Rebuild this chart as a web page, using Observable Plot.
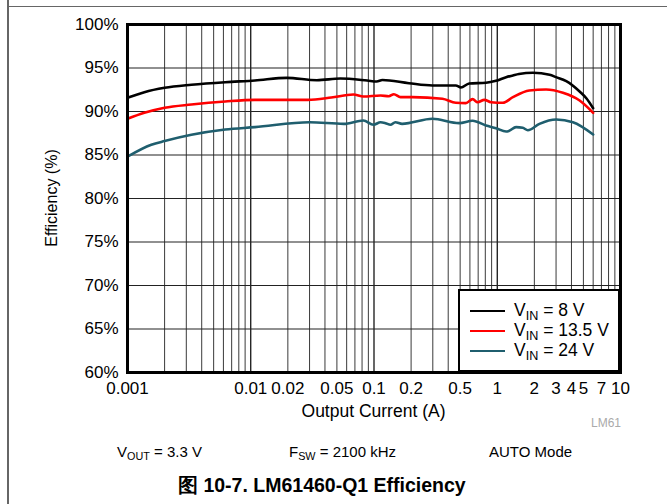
<!DOCTYPE html>
<html>
<head>
<meta charset="utf-8">
<script src="https://cdn.jsdelivr.net/npm/d3@7"></script>
<script src="https://cdn.jsdelivr.net/npm/@observablehq/plot@0.6"></script>
<style>
  html, body { margin: 0; padding: 0; background: #fff; }
  #wrap { position: relative; width: 667px; height: 504px; overflow: hidden; font-family: "Liberation Sans", Arial, sans-serif; color: #000; }
  #chart { position: absolute; left: 0; top: 0; }
  .bl { position: absolute; background: #666; z-index: 3; }
  .abs { position: absolute; white-space: nowrap; z-index: 4; }
  sub { font-size: 72%; vertical-align: -0.28em; line-height: 0; }
  #legend { position: absolute; left: 458px; top: 289px; width: 158px; height: 79px; border: 2px solid #000; background: #fff; z-index: 5; }
  .lrow { position: absolute; left: 0; height: 20px; width: 160px; }
  .lline { position: absolute; left: 10px; width: 35px; height: 0; top: 9px; border-top: 2.5px solid #000; }
  .ltxt { position: absolute; left: 54px; top: -1px; font-size: 17.5px; line-height: 20px; }
  #xlab { left: 0; width: 747px; text-align: center; top: 402px; font-size: 17.5px; line-height: 19px; }
  #ylab { left: 52px; top: 198px; font-size: 16px; line-height: 18px; transform: translate(-50%, -50%) rotate(-90deg); }
</style>
</head>
<body>
<div id="wrap">
  <div id="chart"></div>
  <div class="bl" style="left:7px; top:0; width:1.5px; height:504px;"></div>
  <div class="bl" style="left:8px; top:5.5px; width:659px; height:1.5px;"></div>
  <div id="legend"></div>
  <div class="abs" id="xlab"></div>
  <div class="abs" id="ylab"></div>
  <div class="abs" style="right:46px; top:416px; font-size:12px; color:#aaa;">LM61</div>
  <div class="abs" style="left:117px; top:443px; font-size:15px; line-height:18px;">V<sub>OUT</sub> = 3.3 V</div>
  <div class="abs" style="left:289px; top:443px; font-size:15px; line-height:18px;">F<sub>SW</sub> = 2100 kHz</div>
  <div class="abs" style="left:489px; top:443px; font-size:15px; line-height:18px;">AUTO Mode</div>
  <div class="abs" style="left:178px; top:474px; font-size:19.5px; line-height:22px; font-weight:bold;">图 10-7. LM61460-Q1 Efficiency</div>
</div>
<script>
// ---- data ----
const seriesNames = ["VIN = 8 V", "VIN = 13.5 V", "VIN = 24 V"];
const seriesLabels = ["8 V", "13.5 V", "24 V"];
const seriesColors = ["#000000", "#ff0000", "#1f5e6e"];

const current8 = [0.001, 0.00137, 0.002, 0.0033, 0.0062, 0.0108, 0.0196, 0.0344, 0.0533, 0.088, 0.105, 0.117, 0.192, 0.298, 0.461, 0.507, 0.592, 0.81, 0.977, 1.18, 1.34, 1.5, 1.95, 2.66, 3.0, 3.63, 4.66, 5.3, 6.0];
const eff8     = [91.57, 92.22, 92.72, 93.07, 93.37, 93.56, 93.87, 93.6, 93.79, 93.56, 93.45, 93.62, 93.25, 92.99, 92.99, 92.76, 93.22, 93.3, 93.53, 93.95, 94.14, 94.3, 94.45, 94.22, 93.95, 93.49, 92.3, 91.5, 90.38];

const current135 = [0.001, 0.00137, 0.002, 0.0033, 0.0062, 0.0108, 0.029, 0.045, 0.068, 0.082, 0.113, 0.132, 0.145, 0.164, 0.205, 0.359, 0.461, 0.556, 0.631, 0.693, 0.786, 0.89, 1.11, 1.34, 1.82, 2.49, 3.41, 4.66, 6.0];
const eff135     = [89.16, 89.85, 90.43, 90.8, 91.15, 91.34, 91.34, 91.6, 91.95, 91.72, 91.84, 91.76, 91.99, 91.65, 91.65, 91.46, 91.0, 90.96, 91.42, 91.07, 91.34, 91.07, 91.0, 91.65, 92.41, 92.53, 92.15, 91.26, 89.85];

const current24 = [0.001, 0.00156, 0.002, 0.0033, 0.0062, 0.0108, 0.030, 0.0568, 0.082, 0.099, 0.113, 0.124, 0.136, 0.149, 0.169, 0.298, 0.49, 0.631, 0.81, 0.977, 1.18, 1.25, 1.42, 1.61, 1.77, 2.2, 3.01, 4.11, 6.0];
const eff24     = [84.8, 86.17, 86.6, 87.32, 87.93, 88.2, 88.77, 88.58, 88.97, 88.47, 88.77, 88.66, 88.47, 88.77, 88.58, 89.16, 88.66, 88.93, 88.39, 88.08, 87.7, 87.78, 88.2, 88.13, 87.85, 88.58, 89.08, 88.77, 87.36];

const xTickValues = [0.001, 0.01, 0.02, 0.05, 0.1, 0.2, 0.5, 1, 2, 3, 4, 5, 7, 10];
const xTickLabels = ["0.001", "0.01", "0.02", "0.05", "0.1", "0.2", "0.5", "1", "2", "3", "4", "5", "7", "10"];
const yTickValues = [60, 65, 70, 75, 80, 85, 90, 95, 100];
const yTickLabels = ["60%", "65%", "70%", "75%", "80%", "85%", "90%", "95%", "100%"];
const xLabel = "Output Current (A)";
const yLabel = "Efficiency (%)";

// ---- build ----
const decades = [0.001, 0.01, 0.1, 1];
const minorGrid = decades.flatMap(d => [2,3,4,5,6,7,8,9].map(k => +(k * d).toPrecision(3)));
const majorGrid = [0.01, 0.1, 1];

const rows = [];
[[current8, eff8], [current135, eff135], [current24, eff24]].forEach(([cs, es], s) => {
  cs.forEach((c, i) => rows.push({series: seriesNames[s], current: c, eff: es[i]}));
});

const xTicks = xTickValues.map((v, i) => ({v, label: xTickLabels[i]}));
const yTicks = yTickValues.map((v, i) => ({v, label: yTickLabels[i]}));

const chart = Plot.plot({
  width: 667,
  height: 430,
  marginLeft: 127,
  marginRight: 47,
  marginTop: 24,
  marginBottom: 58,
  style: {fontFamily: "'Liberation Sans', Arial, sans-serif", fontSize: "17px", color: "#000", background: "transparent", overflow: "visible"},
  x: {type: "log", domain: [0.001, 10], axis: null},
  y: {domain: [60, 100], axis: null},
  color: {domain: seriesNames, range: seriesColors},
  marks: [
    Plot.ruleX(minorGrid, {stroke: "#3a3a3a", strokeWidth: 1}),
    Plot.ruleX(majorGrid, {stroke: "#000", strokeWidth: 1.2}),
    Plot.ruleY(yTickValues, {stroke: "#222", strokeWidth: 1.2}),
    Plot.line(rows, {x: "current", y: "eff", z: "series", stroke: "series", strokeWidth: 2.6, curve: "monotone-x"}),
    Plot.frame({stroke: "#000", strokeWidth: 3}),
    Plot.text(xTicks, {x: "v", text: "label", frameAnchor: "bottom", dy: 21, fontSize: 17, fill: "#000"}),
    Plot.text(yTicks, {y: "v", text: "label", frameAnchor: "left", dx: -9, textAnchor: "end", fontSize: 17, fill: "#000"})
  ]
});
document.getElementById("chart").appendChild(chart);

document.getElementById("xlab").textContent = xLabel;
document.getElementById("ylab").textContent = yLabel;

// legend
const legend = document.getElementById("legend");
seriesNames.forEach((name, i) => {
  const row = document.createElement("div");
  row.className = "lrow";
  row.style.top = (10 + i * 20) + "px";
  const ln = document.createElement("div");
  ln.className = "lline";
  ln.style.borderTopColor = seriesColors[i];
  const tx = document.createElement("div");
  tx.className = "ltxt";
  tx.innerHTML = "V<sub>IN</sub> = " + seriesLabels[i];
  row.appendChild(ln);
  row.appendChild(tx);
  legend.appendChild(row);
});
</script>
</body>
</html>
